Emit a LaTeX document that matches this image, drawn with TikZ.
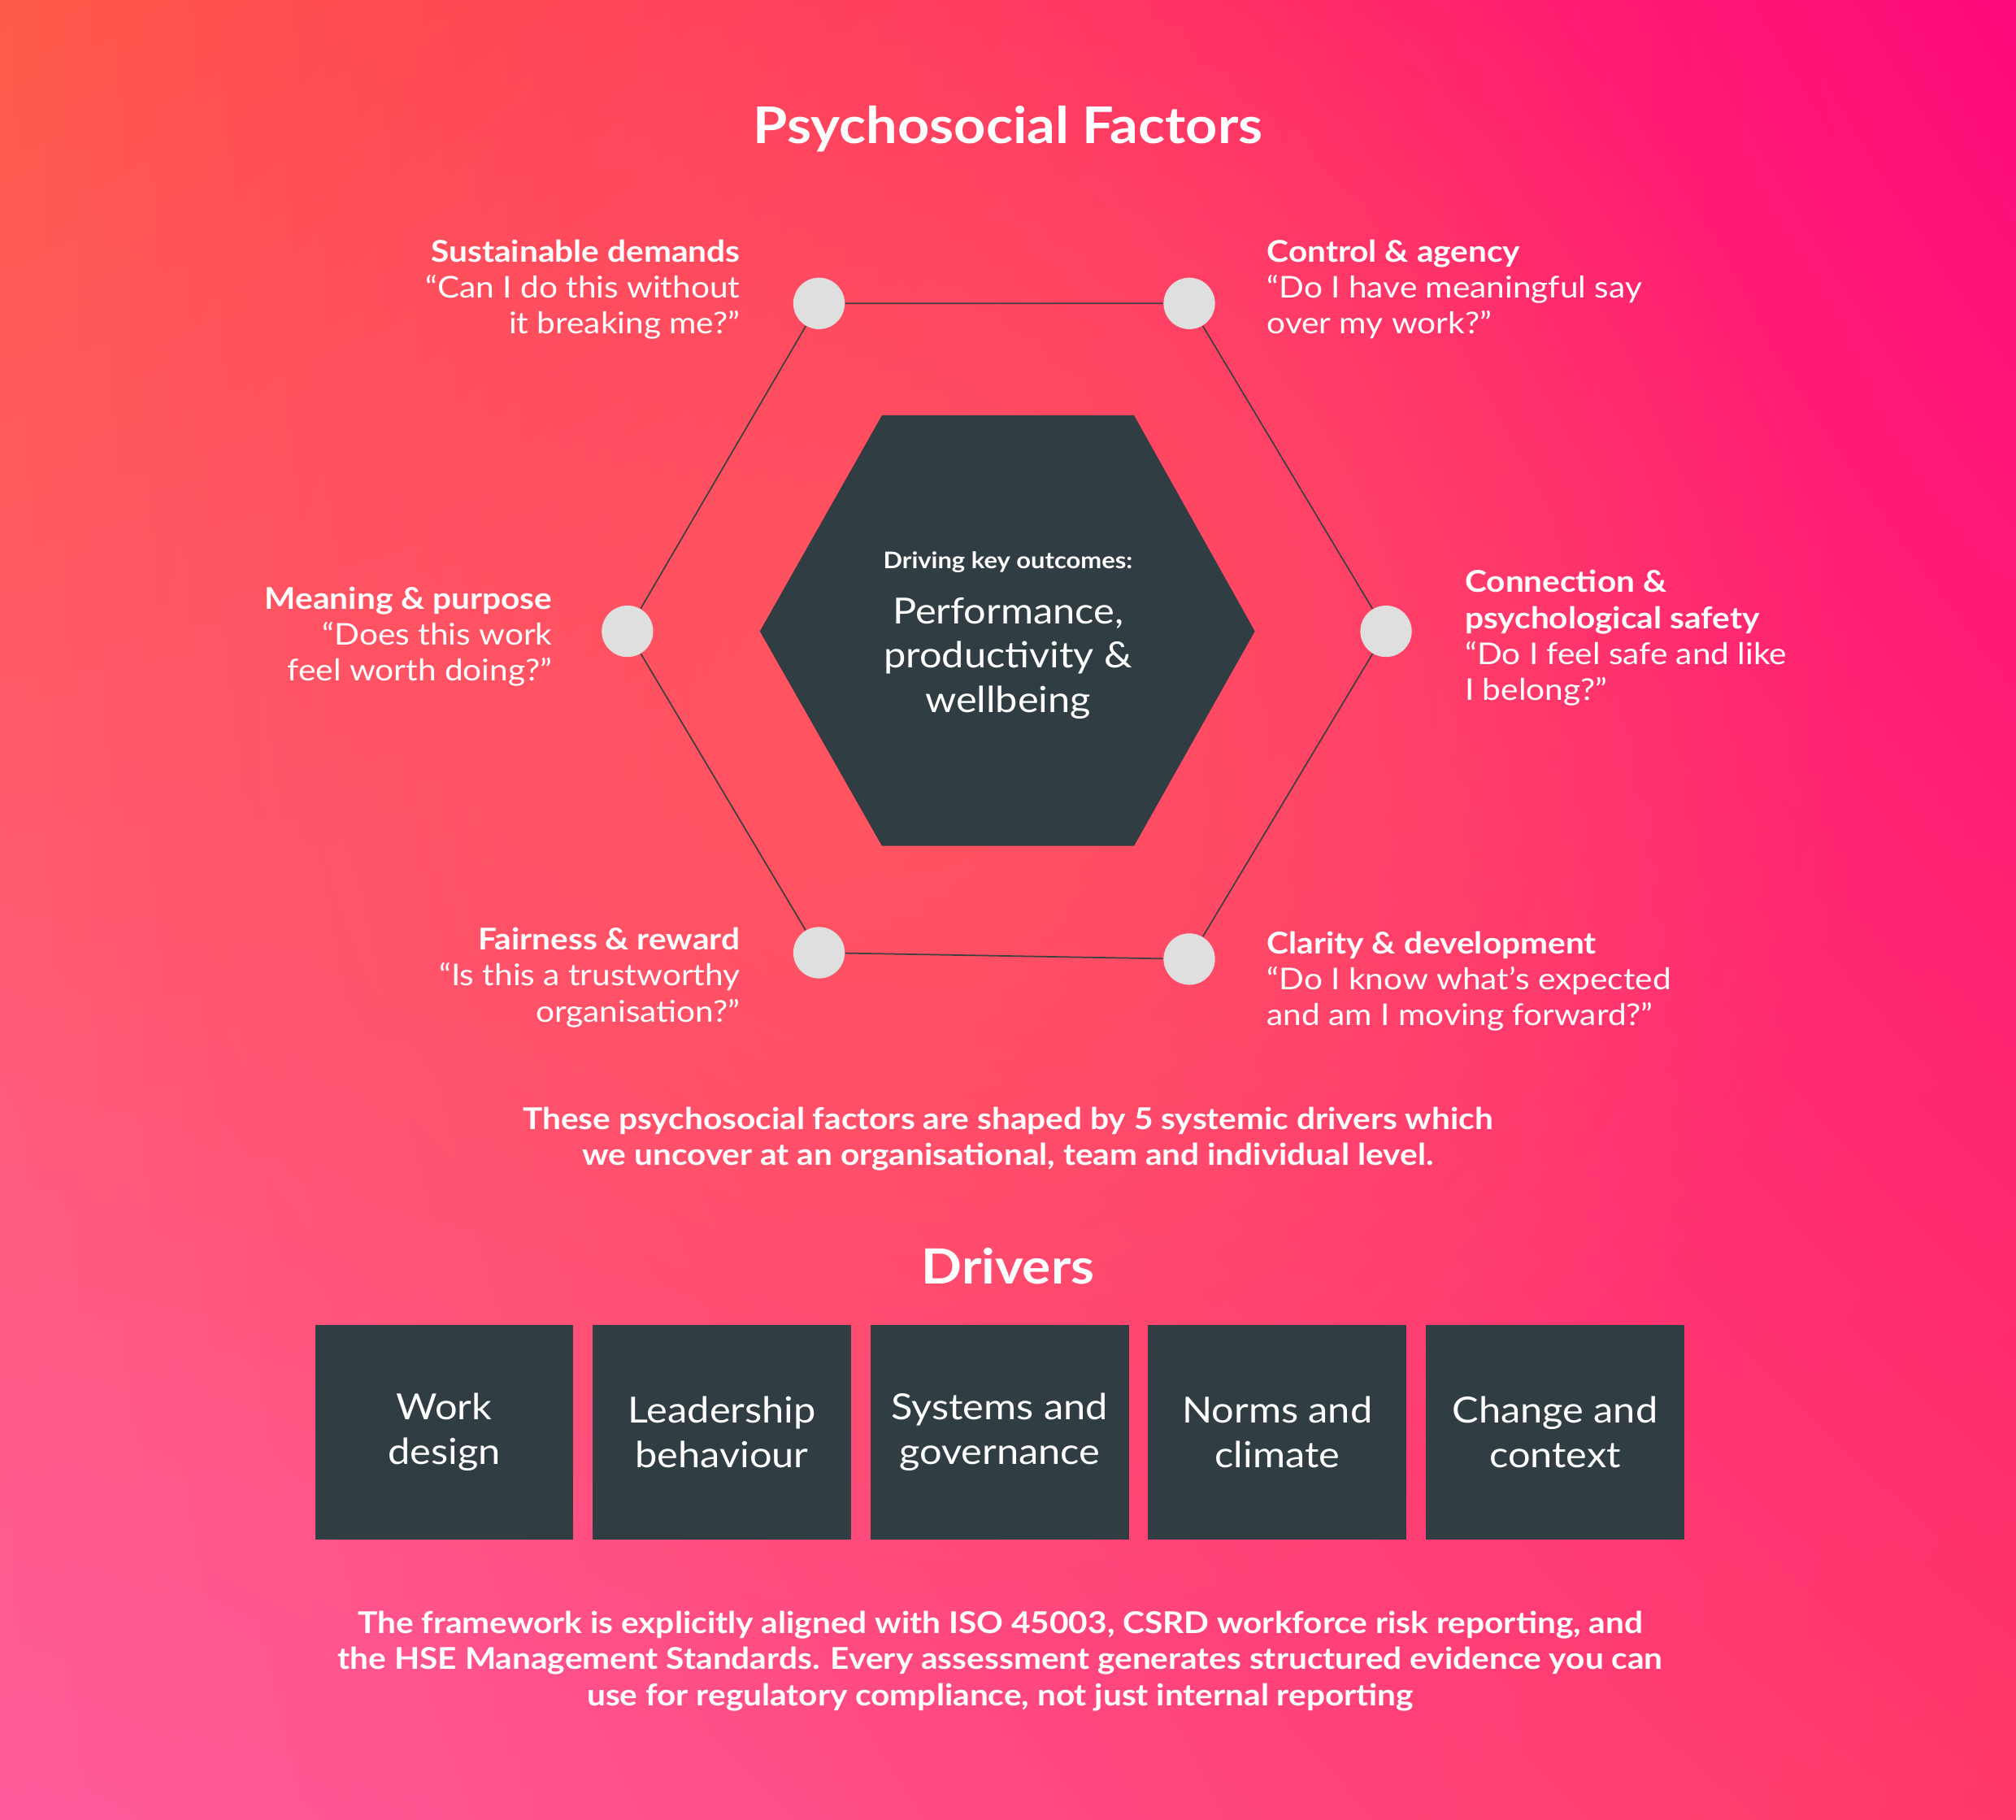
\documentclass[tikz,border=0pt]{standalone}
\usepackage{fontspec}
\setmainfont{Lato}[FakeStretch=1.1]
\usetikzlibrary{shadings,fadings}
\tikzfading[name=myfade, inner color=transparent!0, outer color=transparent!100]
\begin{document}
\begin{tikzpicture}[x=0.015816cm,y=-0.015816cm,
 dot/.style={circle,fill=gray!25!white,draw=none,minimum size=40*0.015816cm,inner sep=0},
 edge/.style={draw=black!75,line width=0.5pt},
 lab/.style={text=white,font=\fontsize{10.5}{12.6}\selectfont,inner sep=0},
 box/.style={fill=dark,minimum width=201*0.015816cm,minimum height=167*0.015816cm,text=white,align=center,font=\fontsize{12.6}{15.8}\selectfont,inner sep=0},
 btxt/.style={text=white,font=\bfseries\fontsize{10.5}{12.6}\selectfont,align=center,inner sep=0}]
\definecolor{dark}{HTML}{303E44}
\definecolor{cTL}{HTML}{FF5A48}
\definecolor{cTR}{HTML}{FF0A7C}
\definecolor{cBL}{HTML}{FF5C9C}
\definecolor{cBR}{HTML}{FF3868}
\definecolor{cMid}{HTML}{FF5A5C}
\useasboundingbox (0,0) rectangle (1568,1415);
\begin{scope}
\clip (0,0) rectangle (1568,1415);
\shade[upper left=cTL,upper right=cTR,lower left=cBL,lower right=cBR] (0,0) rectangle (1568,1415);
\fill[cMid,path fading=myfade,opacity=0.85] (700,560) circle (750);
\end{scope}
\node[text=white,font=\bfseries\fontsize{17.7}{21}\selectfont] (title) at (784,100) {Psychosocial Factors};
% center hexagon
\fill[dark] (686,323)--(882,323)--(976,491)--(882,658)--(686,658)--(591,491)--cycle;
\node[text=white,font=\bfseries\fontsize{8}{10}\selectfont] (drv) at (784,437) {Driving key outcomes:};
\node[text=white,align=center,font=\fontsize{12.6}{15.5}\selectfont] (perf) at (784,512) {Performance,\\productivity \&\\wellbeing};
% outer dots
\node[dot] (a) at (637,236) {};
\node[dot] (b) at (925,236) {};
\node[dot] (c) at (1078,491) {};
\node[dot] (d) at (925,746) {};
\node[dot] (e) at (637,741) {};
\node[dot] (f) at (488,491) {};
\draw[edge] (a)--(b) (b)--(c) (c)--(d) (d)--(e) (e)--(f) (f)--(a);
% labels
\node[lab,align=right,anchor=north east] (la) at (576,186) {\textbf{Sustainable demands}\\“Can I do this without\\it breaking me?”};
\node[lab,align=left,anchor=north west] (lb) at (985,186) {\textbf{Control \& agency}\\“Do I have meaningful say\\over my work?”};
\node[lab,align=left,anchor=north west] (lc) at (1139,443) {\textbf{Connection \&}\\\textbf{psychological safety}\\“Do I feel safe and like\\I belong?”};
\node[lab,align=left,anchor=north west] (ld) at (985,724) {\textbf{Clarity \& development}\\“Do I know what's expected\\and am I moving forward?”};
\node[lab,align=right,anchor=north east] (le) at (576,721) {\textbf{Fairness \& reward}\\“Is this a trustworthy\\organisation?”};
\node[lab,align=right,anchor=north east] (lf) at (430,456) {\textbf{Meaning \& purpose}\\“Does this work\\feel worth doing?”};
\node[btxt] (mid) at (784,886) {These psychosocial factors are shaped by 5 systemic drivers which\\we uncover at an organisational, team and individual level.};
\node[text=white,font=\bfseries\fontsize{17}{20}\selectfont] (drivers) at (784,985) {Drivers};
\node[box] (b1) at (345.5,1114) {Work\\design};
\node[box] (b2) at (561.5,1114) {Leadership\\behaviour};
\node[box] (b3) at (777.5,1114) {Systems and\\governance};
\node[box] (b4) at (993.5,1114) {Norms and\\climate};
\node[box] (b5) at (1209.5,1114) {Change and\\context};
\node[btxt] (foot) at (778,1292) {The framework is explicitly aligned with ISO 45003, CSRD workforce risk reporting, and\\the HSE Management Standards. Every assessment generates structured evidence you can\\use for regulatory compliance, not just internal reporting};
\end{tikzpicture}
\end{document}
